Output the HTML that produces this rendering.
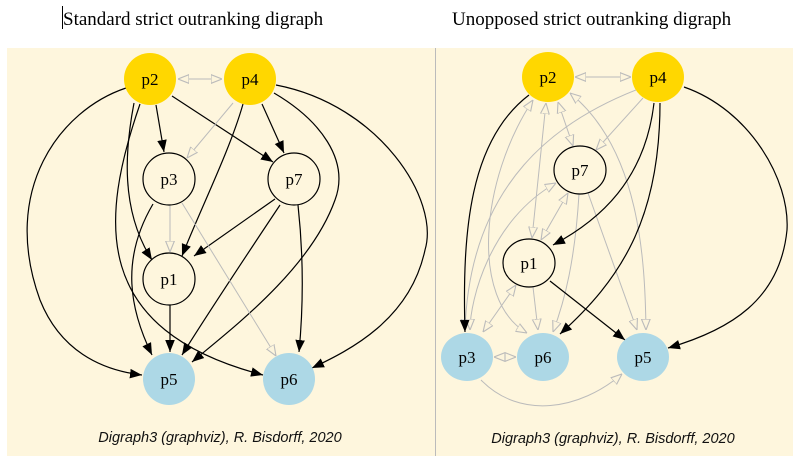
<!DOCTYPE html>
<html><head><style>
html,body{margin:0;padding:0;background:#fff;width:804px;height:466px;overflow:hidden}
svg{display:block}
</style></head><body>
<svg width="804" height="466" viewBox="0 0 804 466" xmlns="http://www.w3.org/2000/svg" font-family="Liberation Serif, serif">
<defs>
<marker id="b" viewBox="0 0 10 10" refX="10" refY="5" markerWidth="12" markerHeight="12" markerUnits="userSpaceOnUse" orient="auto"><path d="M0,1 L10,5 L0,9 z" fill="#000"/></marker>
<marker id="g" viewBox="0 0 10 10" refX="10" refY="5" markerWidth="11" markerHeight="11" markerUnits="userSpaceOnUse" orient="auto"><path d="M0,1 L10,5 L0,9 z" fill="#fdf5dc" stroke="#bbb" stroke-width="1"/></marker>
<marker id="gs" viewBox="0 0 10 10" refX="0" refY="5" markerWidth="11" markerHeight="11" markerUnits="userSpaceOnUse" orient="auto"><path d="M10,1 L0,5 L10,9 z" fill="#fdf5dc" stroke="#bbb" stroke-width="1"/></marker>
</defs>
<rect x="7" y="48" width="428" height="408" fill="#fef6dd"/>
<rect x="435" y="48" width="358" height="408" fill="#fef6dd"/>
<line x1="435.5" y1="48" x2="435.5" y2="456" stroke="#bbb"/>
<line x1="62.5" y1="6" x2="62.5" y2="29" stroke="#000"/>
<text x="63" y="25" font-size="19">Standard strict outranking digraph</text>
<text x="452" y="25" font-size="19">Unopposed strict outranking digraph</text>
<g font-family="Liberation Sans, sans-serif" font-style="italic" font-size="14.5" fill="#111" text-anchor="middle">
<text x="220" y="442">Digraph3 (graphviz), R. Bisdorff, 2020</text>
<text x="613" y="443">Digraph3 (graphviz), R. Bisdorff, 2020</text>
</g>
<g fill="none" stroke="#000" stroke-width="1.2">
<line x1="156" y1="105" x2="164" y2="152" marker-end="url(#b)"/>
<path d="M172,96 L273,162" marker-end="url(#b)"/>
<path d="M262,104 L284,153" marker-end="url(#b)"/>
<path d="M243,104 C230,150 200,210 182,256" marker-end="url(#b)"/>
<path d="M134,103 C125,150 120,210 152,260" marker-end="url(#b)"/>
<path d="M126,88 C60,110 0,190 40,300 C60,350 100,370 142,375" marker-end="url(#b)"/>
<path d="M140,104 C100,220 90,330 263,375" marker-end="url(#b)"/>
<path d="M274,93 C320,120 350,160 335,200 C310,270 230,330 192,362" marker-end="url(#b)"/>
<path d="M276,85 C380,105 440,200 425,250 C410,320 350,350 312,368" marker-end="url(#b)"/>
<path d="M275,199 L194,256" marker-end="url(#b)"/>
<path d="M280,205 C250,250 210,310 182,355" marker-end="url(#b)"/>
<path d="M298,205 C304,260 303,310 299,352" marker-end="url(#b)"/>
<path d="M153,204 C120,260 130,310 152,355" marker-end="url(#b)"/>
<line x1="170" y1="305" x2="170" y2="352" marker-end="url(#b)"/>
</g>
<g fill="none" stroke="#bbb" stroke-width="1">
<line x1="178" y1="79" x2="222" y2="79" marker-start="url(#gs)" marker-end="url(#g)"/>
<line x1="233" y1="103" x2="187" y2="158" marker-end="url(#g)"/>
<line x1="170" y1="205" x2="170" y2="252" marker-end="url(#g)"/>
<line x1="182" y1="203" x2="276" y2="356" marker-end="url(#g)"/>
</g>
<g fill="none" stroke="#bbb" stroke-width="1">
<line x1="575" y1="77" x2="631" y2="77" marker-start="url(#gs)" marker-end="url(#g)"/>
<path d="M533,100 C480,180 470,300 527,333" marker-start="url(#gs)" marker-end="url(#g)"/>
<path d="M546,103 L532,238" marker-start="url(#gs)" marker-end="url(#g)"/>
<path d="M558,102 L573,146" marker-start="url(#gs)" marker-end="url(#g)"/>
<path d="M570,93 C640,150 645,260 646,330" marker-start="url(#gs)" marker-end="url(#g)"/>
<path d="M636,90 C560,120 470,180 465,330" marker-end="url(#g)"/>
<path d="M643,98 L596,150" marker-end="url(#g)"/>
<path d="M556,183 C490,220 470,300 470,330" marker-start="url(#gs)" marker-end="url(#g)"/>
<path d="M568,193 L541,240" marker-start="url(#gs)" marker-end="url(#g)"/>
<path d="M579,194 C575,260 565,300 553,332" marker-end="url(#g)"/>
<path d="M588,193 L637,330" marker-end="url(#g)"/>
<path d="M516,285 L483,332" marker-start="url(#gs)" marker-end="url(#g)"/>
<path d="M533,287 L538,330" marker-end="url(#g)"/>
<line x1="494" y1="357" x2="516" y2="357" marker-start="url(#gs)" marker-end="url(#g)"/>
<path d="M481,380 C520,420 580,410 622,374" marker-end="url(#g)"/>
</g>
<g fill="none" stroke="#000" stroke-width="1.2">
<path d="M529,95 C470,140 462,230 465,332" marker-end="url(#b)"/>
<path d="M654,103 C645,180 600,220 553,245" marker-end="url(#b)"/>
<path d="M660,103 C660,220 620,280 560,334" marker-end="url(#b)"/>
<path d="M684,87 C750,110 790,180 787,230 C780,300 730,330 668,348" marker-end="url(#b)"/>
<path d="M550,281 L625,340" marker-end="url(#b)"/>
</g>
<g font-size="17" text-anchor="middle">
<circle cx="150" cy="79" r="26" fill="#ffd700"/><text x="150" y="85">p2</text>
<circle cx="250" cy="79" r="26" fill="#ffd700"/><text x="250" y="85">p4</text>
<circle cx="169" cy="179" r="26" fill="#fef6dd" stroke="#000" stroke-width="1.2"/><text x="169" y="185">p3</text>
<circle cx="294" cy="179" r="26" fill="#fef6dd" stroke="#000" stroke-width="1.2"/><text x="294" y="185">p7</text>
<circle cx="169" cy="279" r="26" fill="#fef6dd" stroke="#000" stroke-width="1.2"/><text x="169" y="285">p1</text>
<circle cx="169" cy="379" r="26" fill="#add8e6"/><text x="169" y="385">p5</text>
<circle cx="289" cy="379" r="26" fill="#add8e6"/><text x="289" y="385">p6</text>
<ellipse cx="548" cy="77" rx="26" ry="25" fill="#ffd700"/><text x="548" y="83">p2</text>
<ellipse cx="658" cy="77" rx="26" ry="25" fill="#ffd700"/><text x="658" y="83">p4</text>
<ellipse cx="580" cy="170" rx="26" ry="24" fill="#fef6dd" stroke="#000" stroke-width="1.2"/><text x="580" y="176">p7</text>
<ellipse cx="529" cy="263" rx="26" ry="24" fill="#fef6dd" stroke="#000" stroke-width="1.2"/><text x="529" y="269">p1</text>
<ellipse cx="467" cy="357" rx="26" ry="24" fill="#add8e6"/><text x="467" y="363">p3</text>
<ellipse cx="543" cy="357" rx="26" ry="24" fill="#add8e6"/><text x="543" y="363">p6</text>
<ellipse cx="643" cy="357" rx="26" ry="24" fill="#add8e6"/><text x="643" y="363">p5</text>
</g>
</svg>
</body></html>
